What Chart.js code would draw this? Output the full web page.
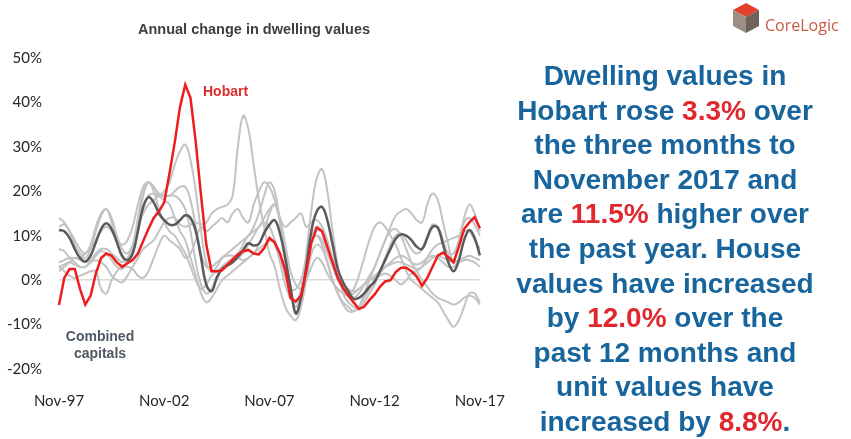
<!DOCTYPE html>
<html>
<head>
<meta charset="utf-8">
<script src="https://cdn.jsdelivr.net/npm/chart.js@4.4.1/dist/chart.umd.min.js"></script>
<style>
  html, body { margin: 0; padding: 0; background: #fff; }
  #wrap { position: relative; width: 851px; height: 439px; overflow: hidden; background: #fff; }
  #chart { position: absolute; left: 0; top: 0; }
  .title { position: absolute; left: 0; width: 508px; top: 21px; text-align: center;
    font: bold 14.5px "Liberation Sans", Arial, sans-serif; color: #404040; }
  .hobart { position: absolute; left: 203px; top: 83px; font: bold 14px "Liberation Sans", Arial, sans-serif; color: #d9302e; }
  .combined { position: absolute; left: 50px; top: 328px; width: 100px; text-align: center;
    font: bold 14px/17px "Liberation Sans", Arial, sans-serif; color: #4f5963; }
  .story { position: absolute; left: 495px; width: 340px; top: 59px; text-align: center;
    font: bold 28px/34.6px "Liberation Sans", Arial, sans-serif; color: #17659c; }
  .story b { color: #e0282e; }
  .logo { position: absolute; left: 730px; top: 1px; }
  .brand { position: absolute; left: 765px; top: 14px; font: 16px "Open Sans", sans-serif; color: #c85a45; }
</style>
</head>
<body>
<div id="wrap">
  <canvas id="chart" width="520" height="439"></canvas>
  <div class="title">Annual change in dwelling values</div>
  <div class="hobart">Hobart</div>
  <div class="combined">Combined<br>capitals</div>
  <svg class="logo" width="32" height="34" viewBox="730 1 32 34">
    <polygon points="746,3 759,10 746,17 733,10" fill="#e2412d"/>
    <polygon points="733,10 746,17 746,33 733,26" fill="#9d8f86"/>
    <polygon points="746,17 759,10 759,26 746,33" fill="#6f625a"/>
  </svg>
  <div class="brand">CoreLogic</div>
  <div class="story">Dwelling values in<br>Hobart rose <b>3.3%</b> over<br>the three months to<br>November 2017 and<br>are <b>11.5%</b> higher over<br>the past year. House<br>values have increased<br>by <b>12.0%</b> over the<br>past 12 months and<br>unit values have<br>increased by <b>8.8%</b>.</div>
</div>
<script>
// quarterly readings, Nov-97 .. Nov-17
const qMonths = ['Nov', 'Feb', 'May', 'Aug'];
const tickLabels = ['Nov-97', 'Nov-02', 'Nov-07', 'Nov-12', 'Nov-17'];

const hobart = [
  -5.6, 0.5, 2.5, 2.5, -2, -5.5, -3.5, 1.5, 5, 6,
  5.5, 4, 3, 3.8, 4.5, 6, 8.8, 11.5, 14, 15.5,
  17.5, 24, 31, 39, 44, 41, 31, 19, 8, 2,
  2, 2.2, 3.5, 4.6, 5.8, 6.5, 6.8, 6, 5.8, 7.2,
  9.5, 8.5, 6, 2.3, -4, -4.8, -3.5, 2, 8.5, 11.8,
  11, 7.5, 4, 0.5, -1.8, -3.5, -5, -6.5, -6, -4.5,
  -3.2, -1.5, -0.3, 0, 1.8, 2.8, 2.8, 2, 0.8, -1.3,
  0.5, 3, 5.5, 6.2, 5.2, 4, 7.5, 11.5, 13, 14.2,
  11.7
];
const combined = [
  11.3, 11, 9.5, 7, 5, 4.2, 5.5, 8.5, 11.5, 12.8,
  11.5, 8.5, 5.5, 4.5, 6, 11, 16.5, 18.7, 17.5, 15,
  13.5, 12.5, 12.5, 13.5, 14.6, 14, 11, 5, -1, -2.5,
  0.5, 2.5, 3.3, 4, 5.3, 6.8, 8.3, 7.8, 8.2, 10.6,
  12.5, 13.5, 10.5, 5, -1.5, -7.5, -4, 3, 11.3, 15.5,
  16.5, 13.5, 8, 2.5, -0.5, -2.5, -4.2, -4, -3, -1.5,
  -0.3, 2, 4.5, 7, 9.3, 10.3, 10, 9, 7.5, 7,
  9.5, 12, 11.8, 8, 4, 2, 4.5, 9, 11.3, 9.5,
  5.6
];
const sydney = [
  14, 13, 11, 8, 6, 5, 7, 11, 14.5, 16,
  13, 9, 5, 4, 6, 12, 19, 22, 21, 19,
  18, 17, 14, 11, 9, 5, 1, -3, -5, -4,
  -2, 0, 1, 2, 3, 4, 5, 6, 7, 8,
  9, 8, 4, -1, -4, -5, -2, 5, 10, 12,
  11, 8, 3, 0, -2, -3.5, -4, -3, -1, 1,
  3, 6, 9, 12, 14.5, 15.5, 16, 15, 13.5, 13,
  17, 19.5, 18, 13, 8, 4, 9, 14, 17, 15,
  11
];
const melbourne = [
  12, 12.5, 11, 9, 7, 6, 8, 12, 15, 16,
  14, 10, 7, 6, 8, 14, 20, 22, 21, 19.5,
  19, 19, 19, 18, 16, 11, 4, -1, -3, -2,
  1, 3, 4, 5, 6, 8, 10, 11, 12, 14,
  16, 17, 13, 6, -2, -6, -3, 6, 16, 23,
  25, 20, 11, 3, -3, -5, -6, -6.5, -5, -3,
  -1, 2, 5, 8, 10, 10.5, 9, 7, 6, 7,
  10, 12.5, 12, 9, 6, 6, 9, 13, 14, 12.5,
  10
];
const brisbane = [
  4, 4.5, 5, 5, 4.5, 4, 4.5, 6, 7, 7,
  6, 5, 4, 5, 7, 11, 16, 19, 19.5, 19,
  20, 22, 26, 29, 30.5, 27, 20, 11, 4, 2,
  3, 5, 6, 7, 8, 9, 10, 12, 15, 19,
  22, 20, 13, 4, -3, -6, -3, 4, 9, 10,
  8, 4, 0, -3, -5.5, -7, -7, -6, -4, -2,
  0, 1.5, 3, 4, 5, 5.5, 5, 4, 3.5, 4,
  5, 5.5, 5, 4, 3, 3, 4, 4.5, 4.5, 4,
  3
];
const adelaide = [
  3, 3.5, 4, 3.5, 3, 3, 4, 5.5, 6.5, 6,
  4.5, 3, 2.5, 4, 7, 12, 15, 17, 18, 19,
  19, 19, 20, 21, 21, 18, 12, 6, 3, 3,
  4, 5, 5.5, 5.5, 5, 4.5, 5, 6, 8, 11,
  15, 17, 14, 8, 2, -1, -2, 0, 3, 5,
  4, 1.5, -0.5, -2, -3, -3.5, -3, -2, -1, 0,
  1, 2, 3, 3.5, 4, 4, 3.5, 3, 2.5, 3,
  4, 5, 5.5, 5, 4.5, 4, 4.5, 5, 5.5, 5,
  4.5
];
const perth = [
  7, 6.5, 5, 4, 3, 3, 4, 4.5, 4, 3,
  1, 0, -0.5, 1, 3, 5, 7, 8, 9, 11,
  13, 14, 14, 12.5, 12, 12.5, 13, 12.5, 13, 15,
  16, 16.5, 17, 19, 30, 37, 34, 26, 18, 12,
  6, 3, -2, -6, -8, -9, -6, 0, 6, 8,
  7, 4, 0, -3, -5, -6, -7, -6, -3, 0,
  3, 6, 9, 11, 11.5, 10, 7, 4, 2, 0,
  -1.5, -3, -4, -4.5, -5, -5.5, -5, -4, -3.5, -4,
  -5.5
];
const darwin = [
  3, 2, 1, 0.5, 1, 1.5, 2, 2, -2, -3,
  0, 2, 3, 3, 2.5, 1, 0.5, 2, 5, 8,
  10, 9, 8, 7, 5, 6, 9, 12, 11, 12,
  13, 14, 13, 15, 16, 14, 13, 17, 20, 22,
  21, 18, 14, 12, 13, 14, 15, 12, 13, 13.5,
  12, 9, 5, 2, -1, -3, -2, 1, 5, 9,
  12, 13, 12, 10, 8, 5, 2, 0, -1, -2,
  -3, -4, -5, -7, -9, -10.5, -9, -6, -3, -3,
  -5
];
const canberra = [
  2, 3, 4, 5, 5, 6, 7, 9, 11, 12,
  11, 9, 8, 9, 12, 17, 21, 22, 20, 16,
  13, 11, 10, 8, 6, 3, 0, -2, -1, 1,
  2, 3, 3.5, 4, 5, 6, 8, 10, 12, 13,
  12, 9, 5, 1, -2, -2, 0, 5, 9, 10,
  9, 6, 3, 1, -1, -2, -2.5, -2, -1, 0,
  0.5, 1, 1.5, 1, 0, -1, 0, 1.5, 2, 3,
  5, 7, 8, 8.5, 9, 9.5, 10, 11, 11, 9,
  7
];

let labels = [];
for (let i = 0; i < hobart.length; i++) {
  const yr = 1997 + Math.floor((i + 3) / 4);
  labels.push(qMonths[i % 4] + '-' + String(yr).slice(2));
}

const greyLines = [sydney, melbourne, brisbane, adelaide, perth, darwin, canberra];

let datasets = [
  { label: 'Hobart', data: hobart, borderColor: '#ee1c1c', borderWidth: 2.5, tension: 0 },
  { label: 'Combined capitals', data: combined, borderColor: '#5a5a5a', borderWidth: 2.5, tension: 0.4 }
];
const names = ['Sydney', 'Melbourne', 'Brisbane', 'Adelaide', 'Perth', 'Darwin', 'Canberra'];
for (let i = 0; i < greyLines.length; i++) {
  datasets.push({ label: names[i], data: greyLines[i], borderColor: '#c3c3c3', borderWidth: 2, tension: 0.4 });
}

Chart.defaults.font.family = 'Lato';
Chart.defaults.color = '#262626';

new Chart(document.getElementById('chart'), {
  type: 'line',
  data: { labels: labels, datasets: datasets },
  options: {
    responsive: false,
    animation: false,
    layout: { padding: { top: 58, right: 37, bottom: 0, left: 0 } },
    elements: { point: { radius: 0 } },
    plugins: { legend: { display: false }, tooltip: { enabled: false } },
    scales: {
      x: {
        offset: false,
        afterFit: (scale) => { scale.height = 70; },
        grid: { display: false },
        border: { display: false },
        ticks: {
          autoSkip: false,
          maxRotation: 0,
          padding: 15,
          font: { size: 15 },
          callback: function (val, i) {
            const l = labels[i];
            return tickLabels.includes(l) ? l : '';
          }
        }
      },
      y: {
        min: -20,
        max: 50,
        afterFit: (scale) => { scale.width = 59; },
        border: { display: false },
        grid: {
          drawTicks: false,
          color: (ctx) => ctx.tick && ctx.tick.value === 0 ? '#d9d9d9' : 'rgba(0,0,0,0)',
          lineWidth: 1.5
        },
        ticks: {
          stepSize: 10,
          padding: 17,
          font: { size: 15 },
          callback: (v) => v + '%'
        }
      }
    }
  }
});
</script>
</body>
</html>
